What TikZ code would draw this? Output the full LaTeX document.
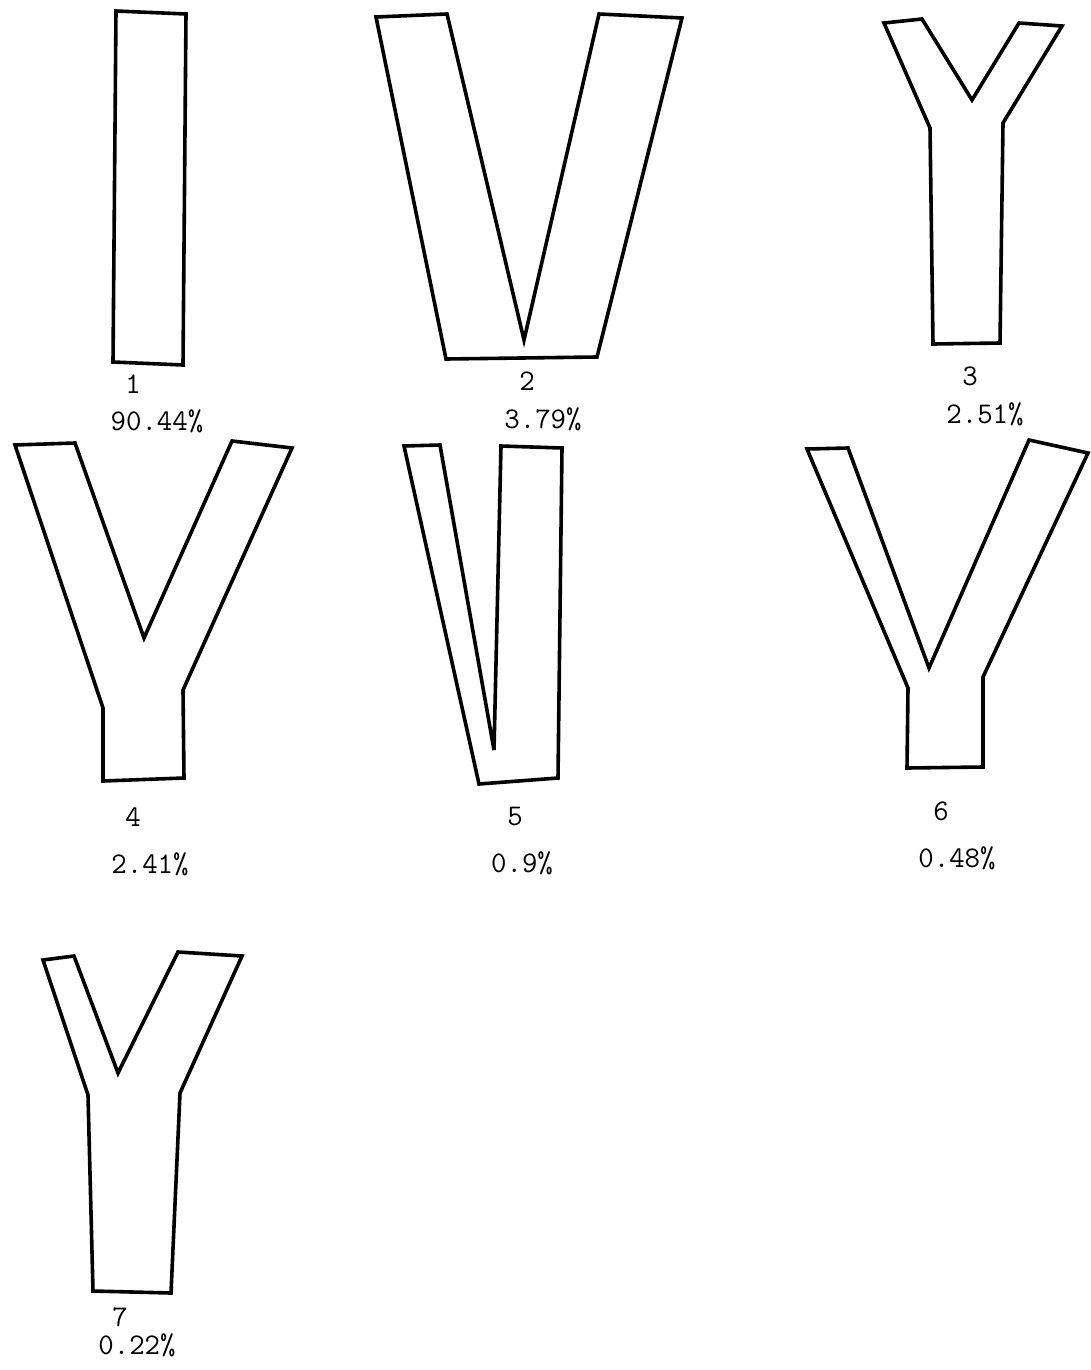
\documentclass[tikz,border=0pt]{standalone}
\usepackage{tikz}

\begin{document}
\begin{tikzpicture}[
  x=1pt, y=-1pt,
  outline/.style={line width=3.6pt, line join=miter, black},
  num/.style={font=\fontsize{30}{32}\selectfont\ttfamily, text=black, inner sep=0pt, anchor=base},
  pct/.style={font=\fontsize{30}{32}\selectfont\ttfamily, text=black, inner sep=0pt, anchor=base},
]
\useasboundingbox (0,0) rectangle (1090,1370);

% 1: bar
\draw[outline] (116,11) -- (186,14) -- (183,365) -- (113,362) -- cycle;
\node[num] (n1) at (133,393) {1};
\node[pct] (p1) at (157,430) {90.44\%};

% 2: V
\draw[outline] (376,17) -- (447,14) -- (524,340) -- (599,14) -- (682,18)
  -- (597,357) -- (446,359) -- cycle;
\node[num] (n2) at (527,390) {2};
\node[pct] (p2) at (543,428) {3.79\%};

% 3: Y, long stem
\draw[outline] (884,23) -- (922,19) -- (972,100) -- (1019,23) -- (1062,26)
  -- (1003,123) -- (1000,343) -- (933,344) -- (930,128) -- cycle;
\node[num] (n3) at (970,385) {3};
\node[pct] (p3) at (985,423) {2.51\%};

% 4: Y, wide arms
\draw[outline] (15,445) -- (75,443) -- (144,638) -- (232,441) -- (292,448)
  -- (183,690) -- (184,778) -- (103,781) -- (103,708) -- cycle;
\node[num] (n4) at (133,826) {4};
\node[pct] (p4) at (150,873) {2.41\%};

% 5: narrow V
\draw[outline] (404,446) -- (440,445) -- (494,750) -- (501,446) -- (562,448)
  -- (558,778) -- (479,784) -- cycle;
\node[num] (n5) at (515,825) {5};
\node[pct] (p5) at (522,872) {0.9\%};

% 6: Y, short stem
\draw[outline] (807,449) -- (848,448) -- (929,668) -- (1029,440) -- (1088,453)
  -- (983,677) -- (983,767) -- (907,768) -- (908,688) -- cycle;
\node[num] (n6) at (941,820) {6};
\node[pct] (p6) at (957,867) {0.48\%};

% 7: Y
\draw[outline] (43,960) -- (74,956) -- (118,1073) -- (178,952) -- (242,956)
  -- (180,1093) -- (171,1293) -- (93,1291) -- (88,1095) -- cycle;
\node[num] (n7) at (120,1326) {7};
\node[pct] (p7) at (137,1354) {0.22\%};

\end{tikzpicture}
\end{document}
